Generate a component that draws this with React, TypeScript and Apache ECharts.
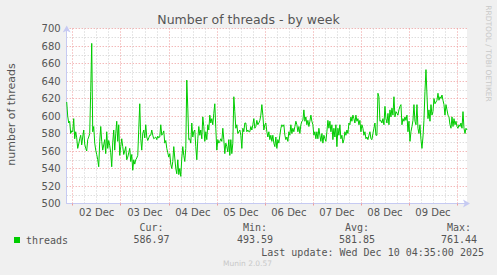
import React, { useEffect, useRef } from 'react';
import * as echarts from 'echarts';

// hours relative to 02 Dec 00:00, one sample every half hour
const startHour = -3;
const stepHours = 0.5;
const dayLabels = ['02 Dec', '03 Dec', '04 Dec', '05 Dec', '06 Dec', '07 Dec', '08 Dec', '09 Dec'];
const threads = [
  616, 600, 592, 594, 580, 583,
  582, 597, 574, 582, 575, 563, 568, 574, 578, 567, 576, 584, 568, 563, 560, 573, 576, 580, 628, 683, 582, 588, 569, 561,
  556, 550, 542, 571, 588, 571, 561, 567, 573, 557, 582, 563, 572, 566, 558, 542, 570, 584, 561, 580, 594, 571, 590, 555,
  565, 574, 565, 556, 560, 565, 550, 553, 558, 563, 548, 556, 538, 550, 545, 550, 552, 555, 585, 614, 574, 561, 580, 584,
  575, 590, 576, 572, 575, 578, 578, 584, 578, 574, 575, 576, 573, 577, 575, 576, 590, 578, 580, 583, 569, 572, 563, 558,
  553, 557, 545, 540, 548, 565, 552, 540, 534, 550, 533, 540, 531, 552, 565, 555, 548, 563, 641, 609, 573, 574, 569, 592,
  576, 582, 584, 565, 550, 574, 588, 578, 584, 574, 599, 588, 571, 582, 573, 590, 584, 601, 592, 597, 590, 603, 614, 586,
  561, 573, 569, 571, 574, 571, 586, 573, 557, 569, 565, 559, 573, 555, 573, 557, 569, 622, 605, 586, 590, 580, 582, 584,
  578, 563, 586, 582, 592, 592, 582, 584, 582, 582, 588, 584, 590, 597, 586, 588, 595, 590, 592, 595, 601, 613, 601, 584,
  590, 592, 582, 576, 582, 573, 578, 571, 578, 569, 565, 576, 563, 573, 569, 578, 586, 590, 588, 590, 578, 573, 576, 571,
  582, 578, 590, 580, 586, 582, 588, 594, 590, 582, 588, 580, 590, 594, 595, 607, 594, 599, 590, 595, 588, 594, 601, 594,
  590, 578, 582, 574, 582, 574, 586, 578, 571, 580, 569, 578, 574, 571, 582, 595, 586, 594, 582, 590, 573, 586, 576, 590,
  565, 586, 578, 590, 574, 578, 569, 573, 582, 578, 584, 580, 592, 590, 599, 594, 601, 597, 592, 601, 594, 597, 590, 595,
  582, 590, 586, 578, 582, 574, 576, 573, 578, 582, 574, 573, 580, 586, 592, 578, 578, 626, 622, 594, 595, 592, 597, 590,
  611, 597, 592, 603, 590, 607, 599, 609, 601, 622, 599, 605, 603, 601, 607, 611, 613, 590, 597, 594, 599, 595, 601, 582,
  594, 571, 582, 588, 595, 613, 594, 590, 613, 586, 580, 590, 573, 563, 576, 595, 628, 653, 624, 597, 607, 594, 613, 601,
  605, 620, 614, 616, 618, 626, 618, 622, 620, 624, 618, 613, 601, 613, 607, 601, 599, 590, 586, 599, 588, 597, 590, 594,
  588, 586, 590, 588, 592, 586, 605, 586, 580, 586, 584,
];
const seriesName = 'threads';
const statHeaders = ['Cur:', 'Min:', 'Avg:', 'Max:'];
const statValues = ['586.97', '493.59', '581.85', '761.44'];
const lastUpdate = 'Last update: Wed Dec 10 04:35:00 2025';
const yMin = 500;
const yMax = 700;

export default function App() {
  const ref = useRef<HTMLDivElement>(null);
  useEffect(() => {
    if (!ref.current) return;
    const chart = echarts.init(ref.current, undefined, { renderer: 'svg' });
    const hourOf = (i: number) => startHour + i * stepHours;
    const cats = threads.map((_, i) => String(hourOf(i)));
    const mod = (a: number, b: number) => ((a % b) + b) % b;
    const red = '#ee9a9a';
    const grey = '#cfcfcf';
    const axisColor = '#c6caf2';
    const textColor = '#555555';
    const mono = 'DejaVu Sans Mono';
    const sans = 'DejaVu Sans';
    const statX = [151.5, 255, 357, 459];
    const graphic: any[] = [
      {
        type: 'text', x: 11, y: 114.5, rotation: Math.PI / 2,
        style: { text: 'number of threads', font: `11px '${sans}'`, fill: textColor, align: 'center', verticalAlign: 'middle' },
      },
      {
        type: 'text', x: 488.5, y: 53.5, rotation: -Math.PI / 2,
        style: { text: 'RRDTOOL / TOBI OETIKER', font: `7.5px '${sans}'`, fill: '#c8c8c8', align: 'center', verticalAlign: 'middle' },
      },
      { type: 'rect', shape: { x: 14, y: 237, width: 6, height: 6 }, style: { fill: '#00cc00' } },
      {
        type: 'text', x: 26, y: 240,
        style: { text: seriesName, font: `10px '${mono}'`, fill: textColor, align: 'left', verticalAlign: 'middle' },
      },
      {
        type: 'text', x: 484, y: 252,
        style: { text: lastUpdate, font: `10px '${mono}'`, fill: textColor, align: 'right', verticalAlign: 'middle' },
      },
      {
        type: 'text', x: 247.5, y: 263.5,
        style: { text: 'Munin 2.0.57', font: `7.5px '${sans}'`, fill: '#c8c8c8', align: 'center', verticalAlign: 'middle' },
      },
    ];
    statHeaders.forEach((h, i) => {
      graphic.push({
        type: 'text', x: statX[i], y: 227.5,
        style: { text: h, font: `10px '${mono}'`, fill: textColor, align: 'center', verticalAlign: 'middle' },
      });
      graphic.push({
        type: 'text', x: statX[i], y: 239.5,
        style: { text: statValues[i], font: `10px '${mono}'`, fill: textColor, align: 'center', verticalAlign: 'middle' },
      });
    });

    chart.setOption({
      animation: false,
      backgroundColor: '#f0f0f0',
      textStyle: { fontFamily: sans },
      title: {
        text: 'Number of threads - by week',
        left: 'center',
        top: 12.5,
        padding: 0,
        textStyle: { fontFamily: sans, fontSize: 12.5, fontWeight: 'normal', color: textColor },
      },
      grid: {
        left: 66.7, top: 28.5, right: 30, bottom: 71.5,
        show: true, backgroundColor: '#ffffff', borderWidth: 0,
        outerBoundsMode: 'none',
      },
      xAxis: {
        type: 'category',
        data: cats,
        boundaryGap: false,
        axisLine: {
          show: true, lineStyle: { color: axisColor, width: 1 },
          symbol: ['none', 'arrow'], symbolSize: [6, 7], symbolOffset: [0, 3],
        },
        axisTick: {
          show: true, length: 2, interval: (i: number) => mod(hourOf(i), 24) === 0,
          lineStyle: { color: red },
        },
        axisLabel: {
          interval: (i: number) => mod(hourOf(i), 24) === 12,
          formatter: (v: string) => dayLabels[(Number(v) - 12) / 24] ?? '',
          margin: 4, fontSize: 10, color: textColor, fontFamily: sans,
        },
        splitLine: {
          show: true,
          interval: (i: number) => mod(hourOf(i), 6) === 0,
          lineStyle: { color: [red, grey, grey, grey], type: [1, 2], width: 1 },
        },
      },
      yAxis: {
        type: 'value',
        min: yMin, max: yMax, interval: 10,
        axisLine: {
          show: true, lineStyle: { color: axisColor, width: 1 },
          symbol: ['none', 'arrow'], symbolSize: [6, 7], symbolOffset: [0, 3],
        },
        axisTick: { show: false },
        axisLabel: {
          formatter: (v: number) => (v % 20 === 0 ? String(v) : ''),
          margin: 6, fontSize: 10, color: textColor, fontFamily: sans,
        },
        splitLine: {
          show: true,
          lineStyle: { color: [red, grey], type: [1, 2], width: 1 },
        },
      },
      series: [
        {
          name: seriesName,
          type: 'line',
          data: threads,
          symbol: 'none',
          lineStyle: { color: '#00cc00', width: 1 },
          itemStyle: { color: '#00cc00' },
          z: 3,
        },
      ],
      graphic,
    });
    return () => chart.dispose();
  }, []);
  return (
    <div
      ref={ref}
      style={{ position: 'absolute', left: 0, top: 0, width: 497, height: 275 }}
    />
  );
}
